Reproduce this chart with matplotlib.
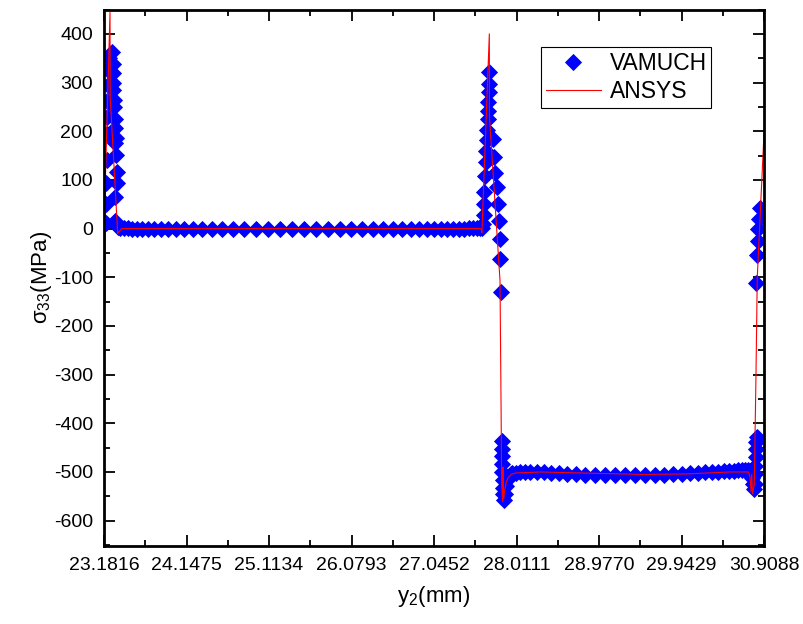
import matplotlib
matplotlib.use("Agg")
import matplotlib.pyplot as plt

plt.rcParams['font.family'] = ['Liberation Sans', 'DejaVu Sans']
plt.rcParams['mathtext.fontset'] = 'custom'
plt.rcParams['mathtext.rm'] = 'Liberation Sans'
plt.rcParams['mathtext.it'] = 'Liberation Sans:italic'
plt.rcParams['axes.unicode_minus'] = False

# VAMUCH results (diamonds)
vamuch_y2 = [
    # first interface
    23.204, 23.207, 23.210, 23.213, 23.216, 23.219, 23.222, 23.226, 23.230, 23.236,
    23.272, 23.285, 23.288, 23.290, 23.292, 23.294, 23.297, 23.310, 23.314, 23.322,
    23.316, 23.326, 23.336, 23.338, 23.314, 23.310, 23.340,
    # layer 1
    23.369, 23.416, 23.463, 23.509, 23.568, 23.627, 23.697, 23.767, 23.849, 23.931,
    24.025, 24.118, 24.224, 24.329, 24.446, 24.563, 24.692, 24.821, 24.961, 25.102,
    25.242, 25.383, 25.523, 25.664, 25.804, 25.945, 26.074, 26.202, 26.331, 26.448,
    26.565, 26.671, 26.776, 26.870, 26.963, 27.045, 27.127, 27.198, 27.268, 27.338,
    27.397, 27.455, 27.502, 27.549, 27.584,
    # second interface
    27.612, 27.619, 27.625, 27.630, 27.636, 27.642, 27.650, 27.656, 27.662, 27.668,
    27.674, 27.678, 27.682, 27.685, 27.688, 27.690,
    27.736, 27.752, 27.762, 27.777, 27.790, 27.803, 27.814, 27.818, 27.828,
    27.838, 27.840, 27.842, 27.844, 27.846, 27.848, 27.851, 27.855, 27.862,
    27.878, 27.893, 27.910, 27.928, 27.945,
    # layer 2
    27.958, 28.005, 28.052, 28.110, 28.169, 28.251, 28.333, 28.415, 28.509, 28.602,
    28.708, 28.813, 28.930, 29.047, 29.165, 29.282, 29.399, 29.516, 29.633, 29.739,
    29.844, 29.949, 30.043, 30.136, 30.218, 30.300, 30.370, 30.441, 30.499, 30.558,
    30.605, 30.652, 30.687, 30.722,
    # third interface
    30.745, 30.758, 30.770, 30.780, 30.790, 30.800, 30.805, 30.809, 30.812, 30.815,
    30.818, 30.821, 30.818, 30.828, 30.836, 30.842, 30.850, 30.860,
]
vamuch_s33 = [
    12, 50, 93, 140, 195, 230, 262, 295, 325, 350,
    362, 339, 319, 300, 284, 265, 249, 226, 206, 187,
    175, 152, 117, 93, 64, 16, 4,
    2, 1, 1, 0, 0, 0, 0, 0, 0, 0,
    0, 0, 0, 0, 0, 0, 0, 0, 0, 0,
    0, 0, 0, 0, 0, 0, 0, 0, 0, 0,
    0, 0, 0, 0, 0, 0, 0, 0, 0, 0,
    0, 1, 1, 2, 2,
    2, 10, 27, 51, 75, 109, 136, 160, 182, 203,
    225, 242, 259, 280, 297, 321,
    184, 147, 115, 85, 51, 16, -21, -62, -131,
    -436, -452, -468, -484, -500, -516, -532, -546, -558,
    -546, -528, -515, -508, -505,
    -503, -502, -500, -499, -499, -500, -501, -502, -503, -504,
    -505, -506, -506, -507, -507, -507, -507, -507, -506, -506,
    -505, -504, -503, -502, -501, -500, -499, -498, -497, -497,
    -496, -496, -496, -496,
    -497, -502, -512, -525, -535, -525, -505, -488, -470, -452,
    -438, -428, -111, -55, -25, 0, 20, 43,
]

# ANSYS results (line)
ansys_y2 = [
    23.1816, 23.192, 23.196, 23.252, 23.254, 23.342, 23.389, 25.500, 27.590, 27.600,
    27.606, 27.693, 27.695, 27.818, 27.838, 27.848, 27.853, 27.860, 27.870, 27.890,
    27.912, 27.950, 28.000, 28.300, 29.000, 29.500, 30.000, 30.500, 30.728, 30.745,
    30.757, 30.765, 30.775, 30.795, 30.815, 30.830, 30.9088,
]
ansys_s33 = [
    -60, -150, 90, 444, 270, -10, 0, 0, 0, -3,
    -8, 400, 228, -107, -525, -560, -490, -555, -540, -522,
    -512, -505, -502, -500, -503, -505, -504, -500, -500, -510,
    -540, -505, -545, -525, -300, -100, 195,
]

x_ticks = [23.1816, 24.1475, 25.1134, 26.0793, 27.0452, 28.0111, 28.9770, 29.9429, 30.9088]
y_ticks = [-600, -500, -400, -300, -200, -100, 0, 100, 200, 300, 400]

fig = plt.figure(figsize=(8.04, 6.24), dpi=100)
ax = fig.add_axes([104 / 804, 1 - 546 / 624, 660 / 804, 536.5 / 624])

ax.plot(vamuch_y2, vamuch_s33, linestyle='none', marker='D', markersize=8.2,
        color='#0000ff', markeredgecolor='#0000ff', markeredgewidth=0.6, label='VAMUCH')
ax.plot(ansys_y2, ansys_s33, color='#ff0000', linewidth=0.8, label='ANSYS')

ax.set_xlim(x_ticks[0], x_ticks[-1])
ax.set_ylim(-652, 450)
ax.set_xticks(x_ticks)
ax.set_xticklabels(['%.4f' % v for v in x_ticks])
ax.set_yticks(y_ticks)
ax.set_xticks([(a + b) / 2 for a, b in zip(x_ticks[:-1], x_ticks[1:])], minor=True)
ax.set_yticks(range(-650, 451, 100), minor=True)

ax.tick_params(which='both', direction='in', top=True, right=True, width=1.3, labelsize=14)
ax.tick_params(which='major', length=8, pad=8)
ax.tick_params(which='minor', length=4.5)
for sp in ax.spines.values():
    sp.set_linewidth(2.0)

ax.set_xlabel('y$_2$(mm)', fontsize=16, labelpad=7)
ax.set_ylabel('σ$_{33}$(MPa)', fontsize=16, labelpad=0)

leg = ax.legend(loc='upper left', bbox_to_anchor=(0.662, 0.930), borderaxespad=0,
                fontsize=16.5, numpoints=1, handlelength=2.4, handletextpad=0.4,
                borderpad=0.2, labelspacing=0.25, fancybox=False, framealpha=1,
                edgecolor='black')
leg.get_frame().set_linewidth(0.8)

fig.savefig('out.png', dpi=100)
